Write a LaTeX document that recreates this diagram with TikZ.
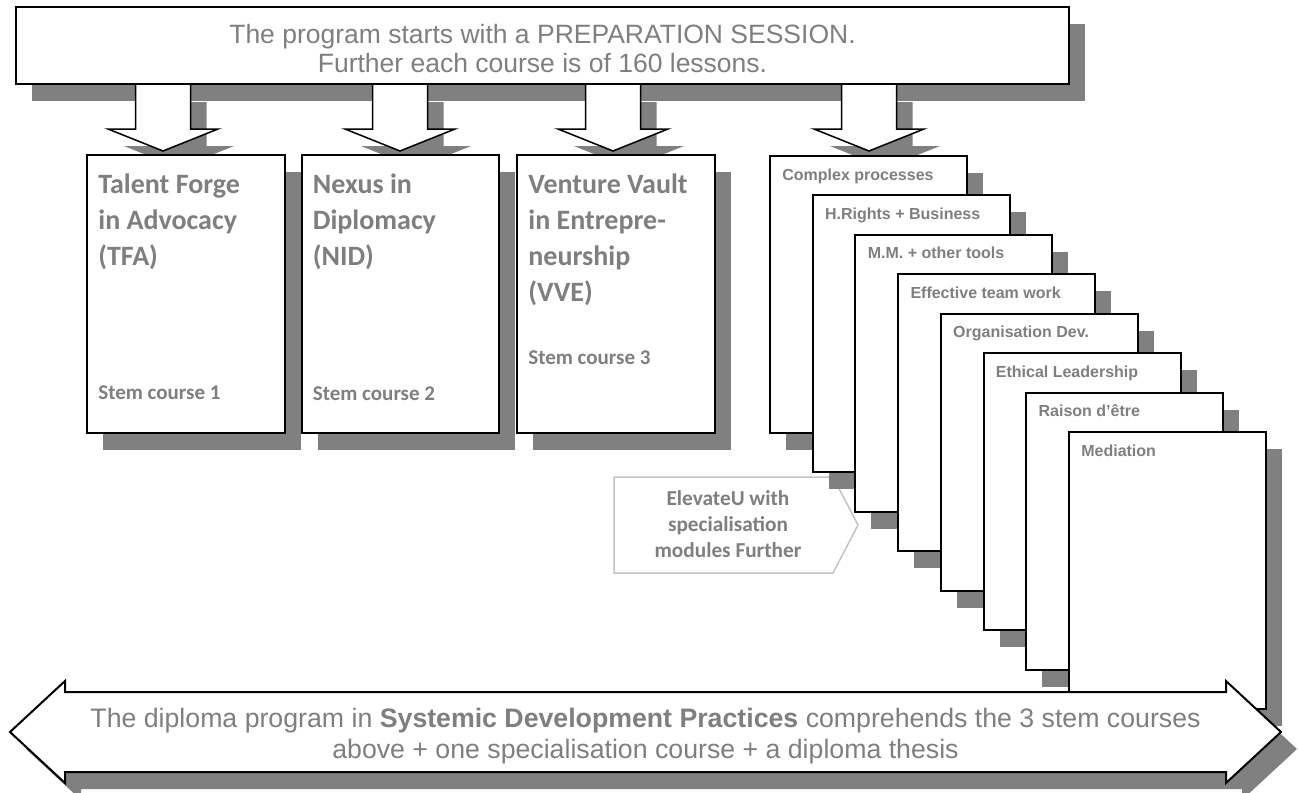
\documentclass[tikz,border=0pt]{standalone}
\usepackage{fontspec}
\setmainfont{Liberation Sans}
\newfontfamily\carlito{Carlito}
\usetikzlibrary{positioning, calc, shadows}

\definecolor{shadegray}{RGB}{128,128,128}
\definecolor{labelgray}{RGB}{127,127,127}
\definecolor{softgray}{RGB}{195,195,195}

\tikzset{
  panel/.style={rectangle, draw=black, line width=1pt, fill=white, inner sep=0pt},
  dropgray/.style={drop shadow={shadow xshift=8pt, shadow yshift=-8.5pt, fill=shadegray, opacity=1}},
  stembox/.style={panel, minimum width=98.75pt, minimum height=139pt, anchor=north west},
  card/.style={panel, minimum width=98.5pt, minimum height=138.5pt, anchor=north west},
  blockarrow/.style={draw=black, line width=0.75pt, fill=white, line join=miter},
  bannertext/.style={font=\fontsize{13.25}{14.5}\selectfont, text=labelgray, align=center, inner sep=0pt},
  stemtitle/.style={font=\carlito\bfseries\fontsize{14}{18}\selectfont, text=labelgray, align=left, anchor=north west, inner sep=0pt},
  stemnote/.style={font=\carlito\bfseries\fontsize{10.5}{12}\selectfont, text=labelgray, anchor=base west, inner sep=0pt},
  cardlabel/.style={font=\bfseries\fontsize{8}{10}\selectfont, text=labelgray, anchor=base west, inner sep=0pt},
  elevtext/.style={font=\carlito\bfseries\fontsize{10.65}{13}\selectfont, text=labelgray, align=center, inner sep=0pt},
}

\begin{document}
\begin{tikzpicture}[x=0.5pt, y=-0.5pt]
  \useasboundingbox (0,0) rectangle (1298,793);

  % Preparation banner
  \node[panel, dropgray, minimum width=526.5pt, minimum height=38.5pt] (prep) at (542.5,45.5) {};
  \node[bannertext] (preptext) at (542.5,49) {The program starts with a PREPARATION SESSION.\\Further each course is of 160 lessons.};

  % Block arrows down to the courses
  \foreach \ax in {163, 400, 613, 869}
    \draw[blockarrow, dropgray] ({\ax-27.5},85) -- ({\ax-27.5},129) -- ({\ax-55},129) -- (\ax,151)
      -- ({\ax+55},129) -- ({\ax+27.5},129) -- ({\ax+27.5},85);

  % Stem courses
  \node[stembox, dropgray] (tfa) at (86,154) {};
  \node[stembox, dropgray, right=7.5pt of tfa.north east, anchor=north west] (nid) {};
  \node[stembox, dropgray, right=8pt of nid.north east, anchor=north west] (vve) {};

  \node[stemtitle] (tfatitle) at ($(tfa.north west)+(12,19.5)$) {Talent Forge\\in Advocacy\\(TFA)};
  \node[stemtitle] (nidtitle) at ($(nid.north west)+(12,19.5)$) {Nexus in\\Diplomacy\\(NID)};
  \node[stemtitle] (vvetitle) at ($(vve.north west)+(12,19.5)$) {Venture Vault\\in Entrepre-\\neurship\\(VVE)};

  \node[stemnote] (tfanote) at ($(tfa.south west)+(12,-35)$) {Stem course 1};
  \node[stemnote] (nidnote) at ($(nid.south west)+(12,-34)$) {Stem course 2};
  \node[stemnote] (vvenote) at ($(vve.south west)+(12,-70)$) {Stem course 3};

  % Specialisation tag
  \draw[softgray, line width=0.75pt, fill=white] (614,477) -- (833,477) -- (858,525) -- (833,573) -- (614,573) -- cycle;
  \node[elevtext] (elevate) at (728,524.5) {ElevateU with\\specialisation\\modules Further};

  % Stack of specialisation modules
  \foreach \lbl [count=\i from 0] in {Complex processes, H.Rights + Business, M.M. + other tools,
      Effective team work, Organisation Dev., Ethical Leadership, Raison d’être, Mediation} {
    \node[card, dropgray] (card\i) at ({769+42.7*\i},{155+39.43*\i}) {};
    \node[cardlabel] (cardtxt\i) at ($(card\i.north west)+(13,25)$) {\lbl};
  }

  % Diploma double arrow
  \draw[blockarrow, line width=1pt, dropgray] (10,732) -- (65,681) -- (65,692) -- (1226,692) -- (1226,681)
    -- (1281,732) -- (1226,783) -- (1226,772) -- (65,772) -- (65,783) -- cycle;
  \node[bannertext, font=\fontsize{13.35}{15.5}\selectfont] (diploma) at (645.5,736)
    {The diploma program in \textbf{Systemic Development Practices} comprehends the 3 stem courses\\above + one specialisation course + a diploma thesis};
\end{tikzpicture}
\end{document}
